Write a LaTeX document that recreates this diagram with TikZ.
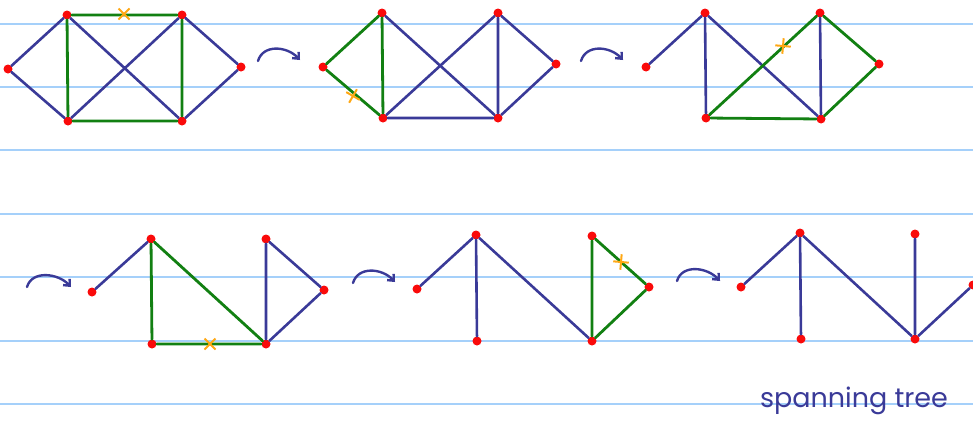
\documentclass[tikz,border=0pt]{standalone}
\usepackage{fontspec}
\newfontfamily\notefont{Poppins}
\usetikzlibrary{arrows.meta,shapes.misc}
\definecolor{penblue}{RGB}{58,58,152}
\definecolor{pengreen}{RGB}{18,128,18}
\definecolor{dotred}{RGB}{250,10,10}
\definecolor{markorange}{RGB}{255,168,20}
\definecolor{rulecol}{RGB}{165,208,250}
\tikzset{
  vtx/.style={circle,fill=dotred,inner sep=0pt,minimum size=9pt},
  tree/.style={draw=penblue,line width=2.6pt,line cap=round},
  cyc/.style={draw=pengreen,line width=2.8pt,line cap=round},
  cut/.style={cross out,draw=markorange,line width=2pt,minimum size=9pt,inner sep=0pt},
  turn/.style={draw=penblue,line width=2.4pt,line cap=round,-{Straight Barb[length=5pt,width=9pt]}},
  notepaper/.style={draw=rulecol,line width=1.4pt}
}

\begin{document}
\begin{tikzpicture}[x=1pt,y=-1pt]
  \useasboundingbox (0,0) rectangle (973,426);
  % ruled paper
  \foreach \y in {24,87,150,214,277,341,404}
    \draw[notepaper] (0,\y) -- (973,\y);

  % step 1: whole graph
  \foreach \n/\x/\y in {g1w/8/69,g1nw/67/15,g1ne/182/15,g1e/241/67,g1sw/68/121,g1se/182/121}
    \node[vtx] (\n) at (\x,\y) {};
  \draw[tree] (g1w)--(g1nw) (g1w)--(g1sw) (g1nw)--(g1se) (g1ne)--(g1sw)
              (g1ne)--(g1e) (g1e)--(g1se);
  \draw[cyc] (g1nw)--(g1ne) (g1ne)--(g1se) (g1se)--(g1sw) (g1sw)--(g1nw);
  \node[cut] (x1) at (124,14) {};

  % step 2
  \foreach \n/\x/\y in {g2w/323/67,g2nw/382/13,g2ne/498/13,g2e/556/64,g2sw/383/118,g2se/498/118}
    \node[vtx] (\n) at (\x,\y) {};
  \draw[tree] (g2nw)--(g2se) (g2ne)--(g2sw) (g2ne)--(g2se) (g2ne)--(g2e)
              (g2e)--(g2se) (g2sw)--(g2se);
  \draw[cyc] (g2w)--(g2nw) (g2nw)--(g2sw) (g2sw)--(g2w);
  \node[cut,rotate=15] (x2) at (353,96) {};

  % step 3
  \foreach \n/\x/\y in {g3w/646/67,g3nw/705/13,g3ne/820/13,g3e/879/64,g3sw/706/118,g3se/821/119}
    \node[vtx] (\n) at (\x,\y) {};
  \draw[tree] (g3w)--(g3nw) (g3nw)--(g3sw) (g3nw)--(g3se) (g3ne)--(g3se);
  \draw[cyc] (g3ne)--(g3e) (g3e)--(g3se) (g3se)--(g3sw) (g3sw)--(g3ne);
  \node[cut,rotate=40] (x3) at (783,46) {};

  % step 4
  \foreach \n/\x/\y in {g4w/92/292,g4nw/151/239,g4ne/266/239,g4e/324/290,g4sw/152/344,g4se/266/344}
    \node[vtx] (\n) at (\x,\y) {};
  \draw[tree] (g4w)--(g4nw) (g4ne)--(g4se) (g4ne)--(g4e) (g4e)--(g4se);
  \draw[cyc] (g4nw)--(g4sw) (g4sw)--(g4se) (g4se)--(g4nw);
  \node[cut] (x4) at (210,344) {};

  % step 5
  \foreach \n/\x/\y in {g5w/417/289,g5nw/476/235,g5ne/592/236,g5e/649/287,g5sw/477/341,g5se/592/341}
    \node[vtx] (\n) at (\x,\y) {};
  \draw[tree] (g5w)--(g5nw) (g5nw)--(g5sw) (g5nw)--(g5se);
  \draw[cyc] (g5ne)--(g5e) (g5e)--(g5se) (g5se)--(g5ne);
  \node[cut,rotate=40] (x5) at (621,262) {};

  % step 6: spanning tree
  \foreach \n/\x/\y in {g6w/741/287,g6nw/800/233,g6ne/915/234,g6e/973/285,g6sw/801/339,g6se/915/339}
    \node[vtx] (\n) at (\x,\y) {};
  \draw[tree] (g6w)--(g6nw) (g6nw)--(g6sw) (g6nw)--(g6se) (g6ne)--(g6se) (g6e)--(g6se);

  % arrows between steps
  \foreach \a/\sx/\sy/\ex/\ey in {a1/258/61/300/60,a2/581/61/623/60,a3/27/287/71/287,
                                  a4/353/283/395/282,a5/677/281/720/281}{
    \coordinate (\a s) at (\sx,\sy);
    \coordinate (\a e) at (\ex,\ey);
    \draw[turn] (\a s) .. controls +(5,-17) and +(-13,-14) .. (\a e);
  }

  \node[text=penblue,font=\notefont\fontsize{27}{27}\selectfont] (caption) at (854,401) {spanning tree};
\end{tikzpicture}
\end{document}
